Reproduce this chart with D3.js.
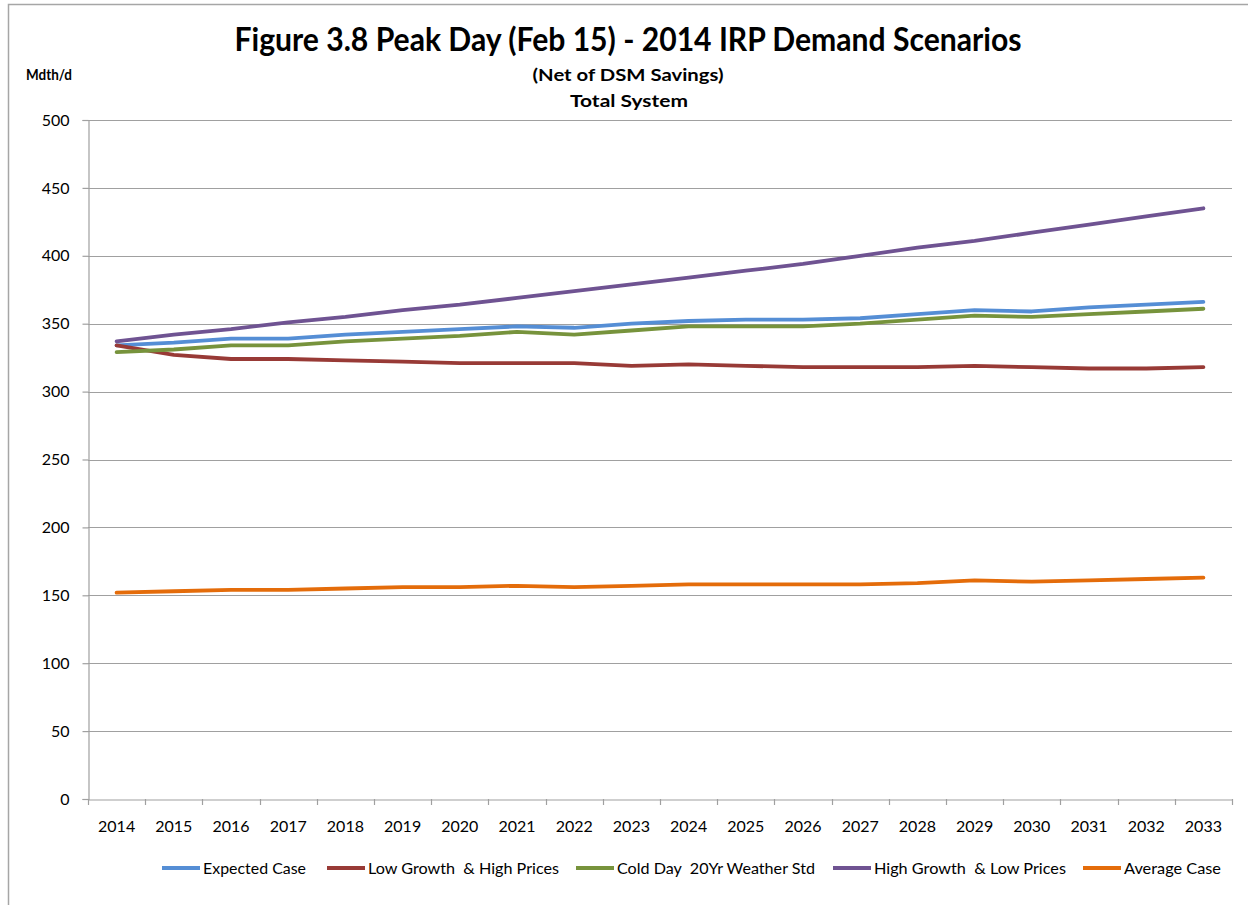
<!DOCTYPE html>
<html>
<head>
<meta charset="utf-8">
<script src="https://cdn.jsdelivr.net/npm/d3@7"></script>
<style>
  html, body { margin: 0; padding: 0; background: #fff; }
  svg { display: block; }
  text { font-family: Lato, "Open Sans", "Liberation Sans", sans-serif; fill: #000; }
</style>
</head>
<body>
<svg id="chart" width="1248" height="905"></svg>
<script>
const years = ["2014","2015","2016","2017","2018","2019","2020","2021","2022","2023","2024","2025","2026","2027","2028","2029","2030","2031","2032","2033"];
const expectedCase = [334, 336, 339, 339, 342, 344, 346, 348, 347, 350, 352, 353, 353, 354, 357, 360, 359, 362, 364, 366];
const lowGrowth = [334, 327, 324, 324, 323, 322, 321, 321, 321, 319, 320, 319, 318, 318, 318, 319, 318, 317, 317, 318];
const coldDay = [329, 331, 334, 334, 337, 339, 341, 344, 342, 345, 348, 348, 348, 350, 353, 356, 355, 357, 359, 361];
const highGrowth = [337, 342, 346, 351, 355, 360, 364, 369, 374, 379, 384, 389, 394, 400, 406, 411, 417, 423, 429, 435];
const averageCase = [152, 153, 154, 154, 155, 156, 156, 157, 156, 157, 158, 158, 158, 158, 159, 161, 160, 161, 162, 163];
const seriesNames = ["Expected Case", "Low Growth  & High Prices", "Cold Day  20Yr Weather Std", "High Growth  & Low Prices", "Average Case"];
const yTicks = [0, 50, 100, 150, 200, 250, 300, 350, 400, 450, 500];

const seriesValues = [expectedCase, lowGrowth, coldDay, highGrowth, averageCase];
const colors = ["#558ED5", "#983A36", "#77933C", "#6F5392", "#E46C0A"];

const svg = d3.select("#chart");

// outer border
svg.append("path").attr("d", "M8.5,905 L8.5,4.5 L1248,4.5")
  .attr("fill", "none").attr("stroke", "#A6A6A6").attr("stroke-width", 1.5);

const plotLeft = 88, plotRight = 1232, plotTop = 120, plotBottom = 799;
const x = d3.scaleBand().domain(years).range([plotLeft, plotRight]);
const y = d3.scaleLinear().domain([0, 500]).range([plotBottom, plotTop]);

// gridlines
svg.append("g").selectAll("line").data(yTicks.filter(d => d > 0)).join("line")
  .attr("x1", plotLeft).attr("x2", plotRight)
  .attr("y1", d => Math.round(y(d)) + 0.5).attr("y2", d => Math.round(y(d)) + 0.5)
  .attr("stroke", "#A0A0A0").attr("stroke-width", 1.2);

// y axis
const yAxis = svg.append("g").attr("transform", `translate(${plotLeft + 0.5},0)`)
  .call(d3.axisLeft(y).tickValues(yTicks).tickSize(6).tickPadding(13).tickFormat(d3.format("d")));
yAxis.select(".domain").attr("stroke", "#A0A0A0").attr("stroke-width", 1.2);
yAxis.selectAll(".tick line").attr("stroke", "#A0A0A0").attr("stroke-width", 1.2);
yAxis.selectAll(".tick text").attr("font-size", 16).attr("font-family", "Lato, sans-serif").attr("fill", "#000");

// x axis
const xAxis = svg.append("g").attr("transform", `translate(0,${plotBottom + 0.5})`)
  .call(d3.axisBottom(x).tickSize(0).tickPadding(21));
xAxis.select(".domain").attr("stroke", "#A0A0A0").attr("stroke-width", 1.2);
xAxis.selectAll(".tick text").attr("font-size", 16).attr("font-family", "Lato, sans-serif").attr("fill", "#000");
// ticks at category boundaries
const bounds = years.map(d => x(d)).concat([plotRight]);
svg.append("g").selectAll("line").data(bounds).join("line")
  .attr("x1", d => Math.round(d) + 0.5).attr("x2", d => Math.round(d) + 0.5)
  .attr("y1", plotBottom).attr("y2", plotBottom + 6)
  .attr("stroke", "#A0A0A0").attr("stroke-width", 1.2);

// lines
const line = d3.line().x((d, i) => x(years[i]) + x.bandwidth() / 2).y(d => y(d));
svg.append("g").selectAll("path").data(seriesValues).join("path")
  .attr("d", d => line(d))
  .attr("fill", "none")
  .attr("stroke", (d, i) => colors[i])
  .attr("stroke-width", 3.8)
  .attr("stroke-linejoin", "round")
  .attr("stroke-linecap", "round");

// titles
svg.append("text").attr("x", 628).attr("y", 51).attr("text-anchor", "middle")
  .attr("font-size", 32).attr("font-weight", "bold")
  .attr("textLength", 787).attr("lengthAdjust", "spacingAndGlyphs")
  .text("Figure 3.8 Peak Day (Feb 15) - 2014 IRP Demand Scenarios");
svg.append("text").attr("x", 628).attr("y", 81).attr("text-anchor", "middle")
  .attr("font-size", 17.5).attr("font-weight", "bold")
  .attr("textLength", 191).attr("lengthAdjust", "spacingAndGlyphs")
  .text("(Net of DSM Savings)");
svg.append("text").attr("x", 629).attr("y", 107).attr("text-anchor", "middle")
  .attr("font-size", 17.5).attr("font-weight", "bold")
  .attr("textLength", 118).attr("lengthAdjust", "spacingAndGlyphs")
  .text("Total System");
svg.append("text").attr("x", 26).attr("y", 80)
  .attr("font-size", 14.5).attr("font-weight", "bold")
  .attr("textLength", 46).attr("lengthAdjust", "spacingAndGlyphs")
  .text("Mdth/d");

// legend
const legendX = [162, 327, 576, 833, 1083];
const legendTextW = [103, 191, 198, 192, 97];
const lg = svg.append("g").selectAll("g").data(seriesNames).join("g")
  .attr("transform", (d, i) => `translate(${legendX[i]},868)`);
lg.append("line").attr("x1", 0).attr("x2", 38).attr("y1", 0).attr("y2", 0)
  .attr("stroke", (d, i) => colors[i]).attr("stroke-width", 3.8);
lg.append("text").attr("x", 41).attr("y", 6)
  .attr("font-size", 16)
  .attr("textLength", (d, i) => legendTextW[i]).attr("lengthAdjust", "spacingAndGlyphs")
  .style("white-space", "pre")
  .text(d => d);
</script>
</body>
</html>
